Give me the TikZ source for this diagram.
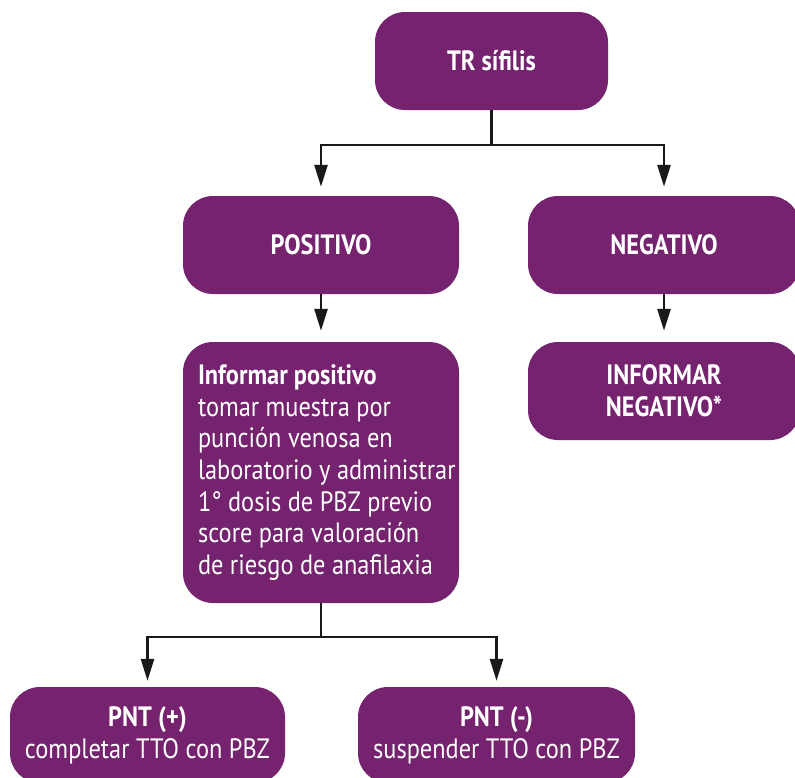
\documentclass[tikz,border=0pt]{standalone}
\usepackage{fontspec}
\setmainfont{PT Sans}[FakeStretch=0.87]
\usetikzlibrary{arrows.meta}
\definecolor{sifpurple}{RGB}{117,34,111}

\begin{document}
\begin{tikzpicture}[x=1pt, y=-1pt]

        % Page size of the reference (795 x 777)
        \useasboundingbox (0,0) rectangle (795,777);

        % 1. Styles for the boxes and the arrows
        \tikzset{box/.style={fill=sifpurple, rounded corners=30pt, text=white, inner sep=0pt, align=center, font=\fontsize{28}{31.7}\selectfont}}
        \tikzset{boldbox/.style={box, font=\fontsize{28}{31.7}\selectfont\bfseries}}
        \tikzset{flow/.style={line width=2.6pt, black!90, -{Triangle[length=22pt, width=13pt]}}}

        % 2. Top box
        \node[boldbox, minimum width=233pt, minimum height=98pt] (tr) at (491.5,61) {TR sífilis};

        % 3. Second row: positive / negative
        \node[boldbox, minimum width=276pt, minimum height=98pt] (pos) at (321,245) {POSITIVO};
        \node[boldbox, minimum width=272pt, minimum height=98pt] (neg) at (664,245) {NEGATIVO};

        % 4. Third row
        \node[box, minimum width=276pt, minimum height=261pt, text width=246pt, inner xsep=15pt, align=flush left] (info) at (321,472.5)
            {\textbf{Informar positivo}\\tomar muestra por\\punción venosa en\\\mbox{laboratorio y administrar}\\1° dosis de PBZ previo\\score para valoración\\de riesgo de anafilaxia};
        \node[boldbox, minimum width=272pt, minimum height=98pt] (infneg) at (664,391) {INFORMAR\\NEGATIVO*};

        % 5. Bottom row: PNT result
        \node[box, minimum width=275pt, minimum height=96pt] (pntpos) at (147.5,735) {\textbf{PNT (+)}\\completar TTO con PBZ};
        \node[box, minimum width=277pt, minimum height=96pt] (pntneg) at (496.5,735) {\textbf{PNT (-)}\\suspender TTO con PBZ};

        % 6. Arrows
        \coordinate (trfork) at (tr.south |- 0,145);
        \draw[flow, shorten >=9pt] (tr.south) -- (trfork) -| (pos.north);
        \draw[flow, shorten >=9pt] (trfork) -| (neg.north);

        \draw[flow, shorten >=11pt] (pos.south) -- (info.north);
        \draw[flow, shorten >=11pt] (neg.south) -- (infneg.north);

        \coordinate (infofork) at (info.south |- 0,637);
        \draw[flow, shorten >=6pt] (info.south) -- (infofork) -| (pntpos.north);
        \draw[flow, shorten >=6pt] (infofork) -| (pntneg.north);

\end{tikzpicture}
\end{document}
